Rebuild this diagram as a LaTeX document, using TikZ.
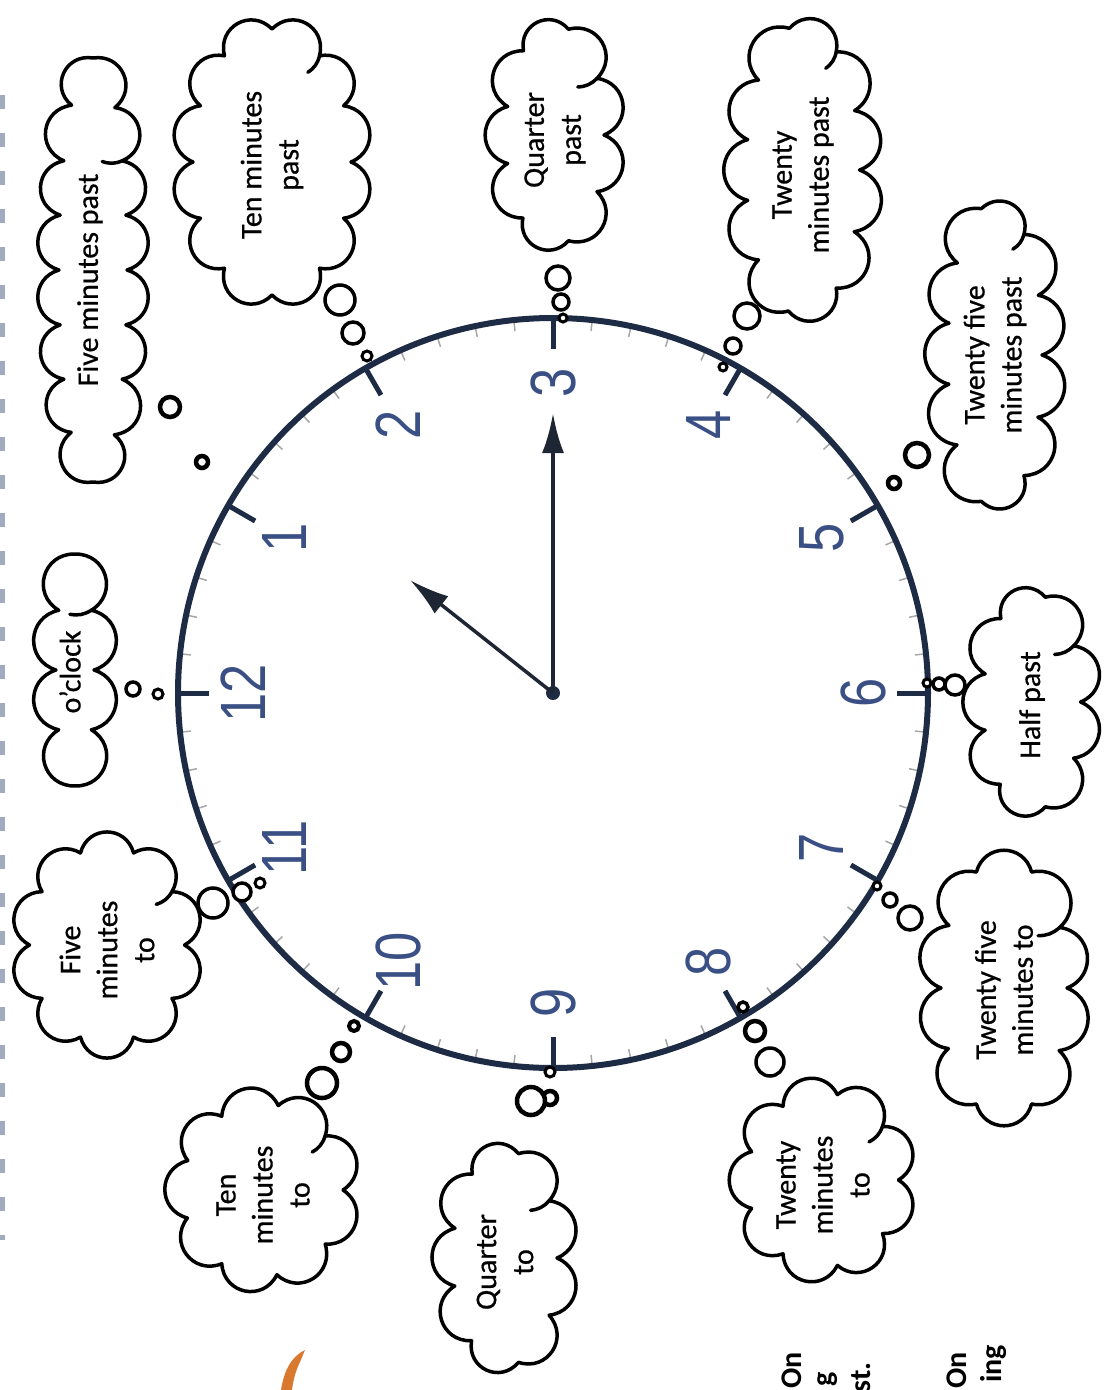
\documentclass[tikz,border=0pt]{standalone}
\usepackage{fontspec}
\setmainfont{Carlito}
\newfontfamily\cloudfont{Carlito}[FakeBold=0.6]
\newfontfamily\numfont{Liberation Sans}
\usetikzlibrary{arrows.meta,calc}
\definecolor{clockblue}{HTML}{1E2B45}
\definecolor{numblue}{HTML}{3A5084}
\definecolor{handcol}{HTML}{1F2633}
\definecolor{orangebit}{HTML}{D9782F}
\definecolor{edgemark}{RGB}{160,172,190}
% #1 name, #2 cx, #3 cy, #4 half width, #5 half height, #6 number of puffs, #7 curl joints
\newcommand\mkcloud[7]{%
  \xdef\cloudL{0}%
  \foreach \k in {1,...,360}{%
    \pgfmathsetmacro\cloudseg{veclen(#4*(cos(\k)-cos(\k-1)),#5*(sin(\k)-sin(\k-1)))}%
    \pgfmathsetmacro\cloudtmp{\cloudL+\cloudseg}%
    \xdef\cloudL{\cloudtmp}%
  }%
  \pgfmathsetmacro\cloudstep{\cloudL/#6}%
  \xdef\cloudstepg{\cloudstep}%
  \xdef\cloudacc{0}\xdef\cloudj{0}%
  \coordinate (#1-0) at ({#2+#4},{#3});%
  \foreach \k in {1,...,360}{%
    \pgfmathsetmacro\cloudseg{veclen(#4*(cos(\k)-cos(\k-1)),#5*(sin(\k)-sin(\k-1)))}%
    \pgfmathsetmacro\cloudtmp{\cloudacc+\cloudseg}%
    \xdef\cloudacc{\cloudtmp}%
    \pgfmathtruncatemacro\cloudflag{(\cloudacc>((\cloudj+1)*\cloudstepg-0.5))?1:0}%
    \ifnum\cloudflag=1
      \pgfmathtruncatemacro\cloudjn{\cloudj+1}%
      \xdef\cloudj{\cloudjn}%
      \coordinate (#1-\cloudj) at ({#2+#4*cos(\k)},{#3+#5*sin(\k)});%
    \fi
  }%
  \draw[cloudline] (#1-0) \foreach \j in {1,...,#6}{ to[bend left=75, looseness=1.4] (#1-\j) };%
  \foreach \c in {#7}{%
    \pgfmathtruncatemacro\cp{\c-1}%
    \coordinate (#1-m) at ($(#1-\cp)!0.5!(#1-\c)$);%
    \coordinate (#1-o) at ($(#1-m)!0.27!-90:(#1-\c)$);%
    \coordinate (#1-r) at ($(#1-o)!1!-42:(#1-\c)$);%
    \draw[cloudline] (#1-\c) to[bend left=21] (#1-r);%
  }%
}
\begin{document}
\begin{tikzpicture}[x=1pt,y=-1pt,
  cloudline/.style={draw=black, line width=3.5pt, line join=round, line cap=round},
  cloudtext/.style={rotate=90, align=center, font=\cloudfont\fontsize{30}{37}\selectfont, inner sep=0pt},
  bub/.style={circle, draw=black, fill=white, inner sep=0pt, line width=3.5pt, minimum size=#1},
  numstyle/.style={rotate=90, text=numblue, font=\numfont\fontsize{64}{64}\selectfont, inner sep=0pt},
  handstyle/.style={draw=handcol, line width=4pt, -{Latex[length=40pt,width=22pt]}},
  frag/.style={rotate=90, font=\fontsize{30}{36}\selectfont\bfseries, inner sep=0pt, anchor=base east}
]
\useasboundingbox (0,0) rectangle (1104,1390);

% faint left-edge marks
\draw[dash pattern=on 14pt off 24pt, line width=6pt, color=edgemark] (2,95) -- (2,1240);

% clock face
\begin{scope}[shift={(553,693)}]
  \foreach \m in {0,...,59} \draw[gray!70, line width=1.5pt] (6*\m:373) -- (6*\m:364);
  \draw[clockblue, line width=6pt] (0,0) circle[radius=375];
  \foreach \h in {1,...,12} \draw[clockblue, line width=5pt] (30*\h:375) -- (30*\h:344);
  \foreach \h in {1,...,12}
    \node[numstyle] (n\h) at (30*\h-180:310) {\scalebox{0.82}[1]{\h}};
\end{scope}

% hands
\node[circle, fill=clockblue, inner sep=0pt, minimum size=14pt] (ctr) at (553,693) {};
\coordinate (mtip) at (553,413);
\coordinate (htip) at (410,580);
\draw[handstyle] (ctr.center) -- (mtip);
\draw[handstyle, line width=3.5pt] (ctr.center) -- (htip);

% clouds (outlines)
\mkcloud{c5p}{93}{270}{34}{212}{16}{14}
\mkcloud{c10p}{272}{162}{79}{133}{12}{10}
\mkcloud{c15p}{555}{135}{49}{110}{9}{8}
\mkcloud{c20p}{803}{170}{56.5}{146}{11}{9}
\mkcloud{c25p}{995}{355}{47}{153}{11}{9}
\mkcloud{c30}{1032}{702}{48.5}{109}{9}{8}
\mkcloud{c25t}{1004}{988}{63}{129}{10}{9}
\mkcloud{c20t}{823}{1180}{75.5}{87}{9}{8}
\mkcloud{c15t}{505}{1258}{52}{108}{9}{8}
\mkcloud{c10t}{263}{1190}{80}{86}{9}{8}
\mkcloud{c5t}{107}{945}{77.5}{98}{10}{9}
\mkcloud{c0}{75}{670}{19}{116}{8}{7}

% cloud texts
\node[cloudtext] (t5p) at (90,280) {Five minutes past};
\node[cloudtext] (t10p) at (272,165) {Ten minutes\\past};
\node[cloudtext] (t15p) at (555,140) {Quarter\\past};
\node[cloudtext] (t20p) at (803,175) {Twenty\\minutes past};
\node[cloudtext] (t25p) at (995,355) {Twenty five\\minutes past};
\node[cloudtext] (t30) at (1032,705) {Half past};
\node[cloudtext] (t25t) at (1004,990) {Twenty five\\minutes to};
\node[cloudtext] (t20t) at (823,1185) {Twenty\\minutes\\to};
\node[cloudtext] (t15t) at (505,1262) {Quarter\\to};
\node[cloudtext] (t10t) at (263,1195) {Ten\\minutes\\to};
\node[cloudtext] (t5t) at (107,950) {Five\\minutes\\to};
\node[cloudtext] (t0) at (70,672) {o’clock};

% thought bubbles
\node[bub=20pt, line width=4.5pt] (b5p1) at (170,407) {};
\node[bub=12pt, line width=4.5pt] (b5p2) at (202,462) {};
\node[bub=30pt] (b10p1) at (340,300) {};
\node[bub=22pt] (b10p2) at (353,333) {};
\node[bub=10pt, line width=3pt] (b10p3) at (367,356) {};
\node[bub=24pt] (b15p1) at (558,278) {};
\node[bub=16pt] (b15p2) at (561,302) {};
\node[bub=8pt, line width=3pt] (b15p3) at (563,318) {};
\node[bub=26pt] (b20p1) at (747,316) {};
\node[bub=16pt] (b20p2) at (733,346) {};
\node[bub=8pt, line width=3pt] (b20p3) at (723,367) {};
\node[bub=24pt, line width=4.5pt] (b25p1) at (917,455) {};
\node[bub=12pt, line width=4.5pt] (b25p2) at (894,483) {};
\node[bub=8pt, line width=3pt] (b30a) at (927,683) {};
\node[bub=12pt] (b30b) at (939,684) {};
\node[bub=20pt] (b30c) at (955,685) {};
\node[bub=8pt, line width=3pt] (b25ta) at (877,886) {};
\node[bub=14pt] (b25tb) at (890,900) {};
\node[bub=24pt] (b25tc) at (910,918) {};
\node[bub=10pt] (b20ta) at (743,1007) {};
\node[bub=20pt, line width=4.5pt] (b20tb) at (755,1031) {};
\node[bub=28pt] (b20tc) at (770,1062) {};
\node[bub=10pt, line width=3pt] (b15ta) at (550,1072) {};
\node[bub=14pt, line width=4.5pt] (b15tb) at (550,1098) {};
\node[bub=28pt, line width=4.5pt] (b15tc) at (531,1101) {};
\node[bub=10pt, line width=4pt] (b10ta) at (354,1026) {};
\node[bub=18pt, line width=4.5pt] (b10tb) at (341,1052) {};
\node[bub=30pt, line width=4.5pt] (b10tc) at (322,1083) {};
\node[bub=30pt] (b5ta) at (213,903) {};
\node[bub=18pt] (b5tb) at (242,892) {};
\node[bub=10pt, line width=3pt] (b5tc) at (260,883) {};
\node[bub=14pt] (b0a) at (133,689) {};
\node[bub=10pt, line width=3pt] (b0b) at (158,694) {};

% cut-off text fragments at the bottom
\node[frag] (f1) at (801,1352) {On};
\node[frag] (f2) at (832,1372) {g};
\node[frag] (f3) at (870,1362) {st.};
\node[frag] (f4) at (966,1352) {On};
\node[frag] (f5) at (1001,1345) {ing};

% orange fragment
\fill[orangebit] (281,1390) .. controls (284,1370) and (292,1356) .. (305,1350)
  -- (300,1362) .. controls (295,1372) and (293,1382) .. (292,1390) -- cycle;
\end{tikzpicture}
\end{document}
